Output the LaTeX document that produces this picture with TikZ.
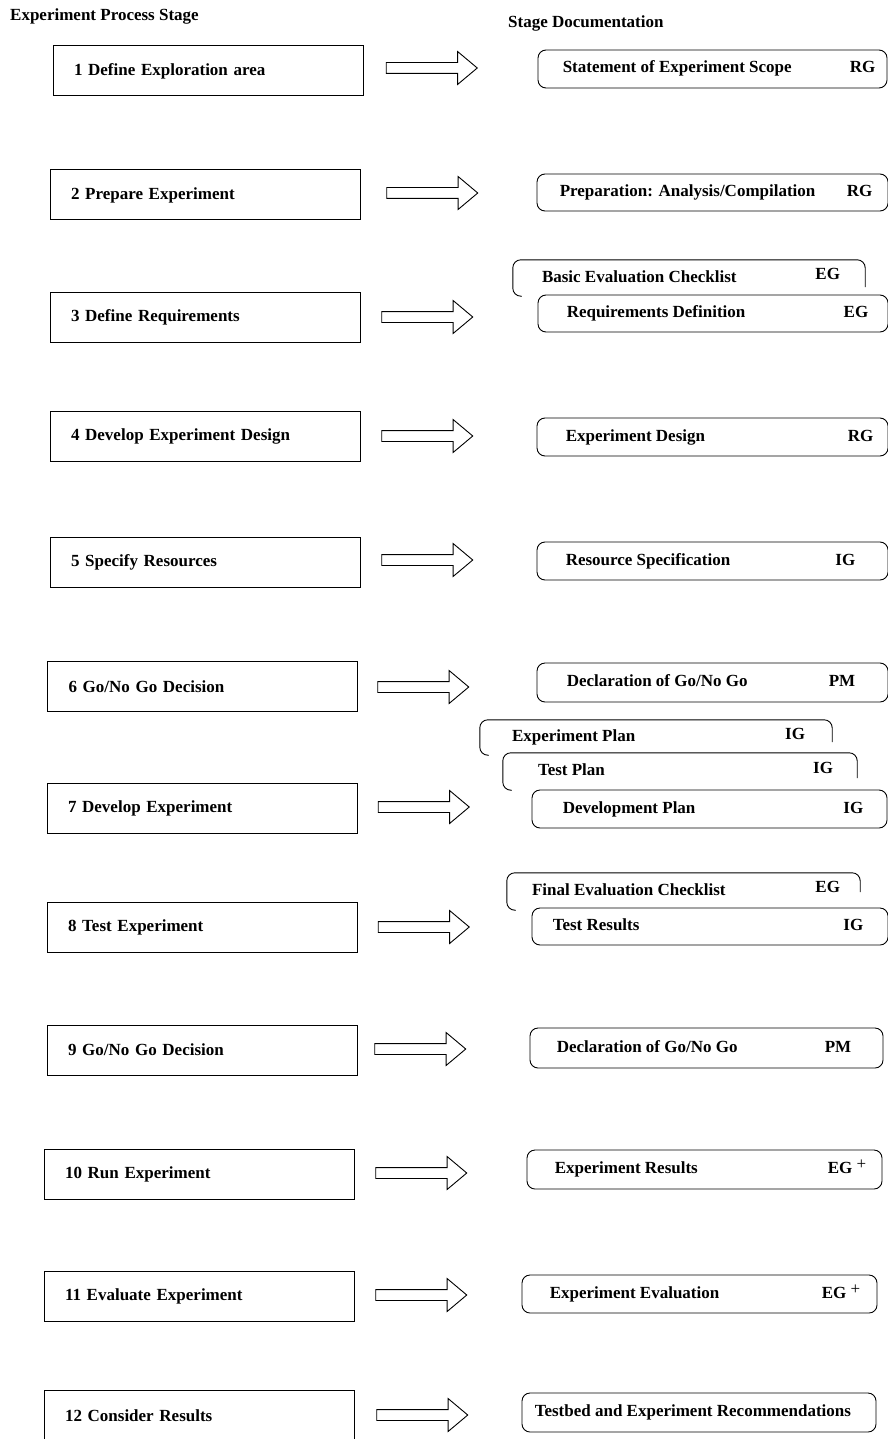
\documentclass[tikz,border=0pt]{standalone}
\usepackage{fontspec}
\setmainfont{Liberation Serif}
\usetikzlibrary{shapes.arrows,positioning,calc}

\tikzset{
  stagebox/.style={draw, line width=1pt, minimum width=310pt, minimum height=50pt,
    text width=268pt, inner xsep=21pt, inner ysep=0pt, align=left},
  docbox/.style={draw, fill=white, line width=0.9pt, rounded corners=8pt,
    minimum width=352pt, minimum height=38pt, inner sep=0pt},
  backbox/.style={minimum width=352pt, minimum height=36pt, inner sep=0pt},
  docline/.style={line width=0.9pt, rounded corners=8pt},
  doctext/.style={inner sep=0pt, text height=12pt, text depth=4pt},
  docarrow/.style={draw, line width=0.9pt, single arrow, minimum height=91pt,
    single arrow head extend=11pt, single arrow tip angle=80,
    single arrow head indent=0pt, inner xsep=0pt, inner ysep=5pt},
}
\newcommand{\egplus}{EG \raisebox{4pt}{\mdseries+}}

\begin{document}
\begin{tikzpicture}[x=1pt, y=-1pt, font=\bfseries\fontsize{17}{20}\selectfont]
\useasboundingbox (0,0) rectangle (888,1439);

% headings
\node[doctext, anchor=west] (h1) at (10,17) {Experiment Process Stage};
\node[doctext, anchor=west] (h2) at (508,24) {Stage Documentation};

% process stages
\node[stagebox] (s1) at (208,71) {1 Define Exploration area};
\node[stagebox] (s2) at (205,195) {2 Prepare Experiment};
\node[stagebox] (s3) at (205,317.5) {3 Define Requirements};
\node[stagebox] (s4) at (205,436) {4 Develop Experiment Design};
\node[stagebox] (s5) at (205,562) {5 Specify Resources};
\node[stagebox] (s6) at (202.5,686.5) {6 Go/No Go Decision};
\node[stagebox] (s7) at (202,808) {7 Develop Experiment};
\node[stagebox] (s8) at (202,927.5) {8 Test Experiment};
\node[stagebox] (s9) at (202,1050) {9 Go/No Go Decision};
\node[stagebox] (s10) at (199,1174.5) {10 Run Experiment};
\node[stagebox] (s11) at (199,1296.5) {11 Evaluate Experiment};
\node[stagebox] (s12) at (199,1415.5) {12 Consider Results};

% arrows
\node[docarrow] (a1) at (428.5,68) {};
\node[docarrow] (a2) at (429,193) {};
\node[docarrow] (a3) at (424,317) {};
\node[docarrow] (a4) at (424,436) {};
\node[docarrow] (a5) at (424,560) {};
\node[docarrow] (a6) at (420,687) {};
\node[docarrow] (a7) at (420.5,807) {};
\node[docarrow] (a8) at (420.5,927) {};
\node[docarrow] (a9) at (417,1049) {};
\node[docarrow] (a10) at (418,1173) {};
\node[docarrow] (a11) at (418,1295) {};
\node[docarrow] (a12) at (419,1415) {};

% documentation
\node[docbox, minimum width=349pt] (d1) at (712.5,69) {};
\node[doctext, right=25pt of d1.west] (d1t) {Statement of Experiment Scope};
\node[doctext, left=12pt of d1.east] (d1c) {RG};

\node[docbox, minimum width=351pt, minimum height=37pt] (d2) at (712.5,192.5) {};
\node[doctext, right=23pt of d2.west] (d2t) {Preparation: Analysis/Compilation};
\node[doctext, left=16pt of d2.east] (d2c) {RG};

\node[backbox] (b3) at (689,278) {};
\draw[docline] ([xshift=9pt]b3.south west) -- (b3.south west) -- (b3.north west)
  -- (b3.north east) -- ([yshift=9pt]b3.south east);
\node[doctext, right=29pt of b3.west] (b3t) {Basic Evaluation Checklist};
\node[doctext, left=25pt of b3.east, yshift=3pt] (b3c) {EG};
\node[docbox, minimum width=350pt, minimum height=37pt] (d3) at (713,313.5) {};
\node[doctext, right=29pt of d3.west] (d3t) {Requirements Definition};
\node[doctext, left=20pt of d3.east] (d3c) {EG};

\node[docbox, minimum width=351pt] (d4) at (712.5,437) {};
\node[doctext, right=29pt of d4.west] (d4t) {Experiment Design};
\node[doctext, left=15pt of d4.east] (d4c) {RG};

\node[docbox, minimum width=351pt] (d5) at (712.5,561) {};
\node[doctext, right=29pt of d5.west] (d5t) {Resource Specification};
\node[doctext, left=33pt of d5.east] (d5c) {IG};

\node[docbox, minimum width=351pt, minimum height=39pt] (d6) at (712.5,682.5) {};
\node[doctext, right=30pt of d6.west] (d6t) {Declaration of Go/No Go};
\node[doctext, left=33pt of d6.east] (d6c) {PM};

\node[backbox, minimum height=35pt] (b7a) at (656,737.5) {};
\draw[docline] ([xshift=9pt]b7a.south west) -- (b7a.south west) -- (b7a.north west)
  -- (b7a.north east) -- ([yshift=13pt]b7a.south east);
\node[doctext, right=32pt of b7a.west] (b7at) {Experiment Plan};
\node[doctext, left=27pt of b7a.east, yshift=2pt] (b7ac) {IG};
\node[backbox, minimum width=354pt, minimum height=37pt] (b7b) at (680,771.5) {};
\draw[docline] ([xshift=9pt]b7b.south west) -- (b7b.south west) -- (b7b.north west)
  -- (b7b.north east) -- ([yshift=12pt]b7b.south east);
\node[doctext, right=35pt of b7b.west] (b7bt) {Test Plan};
\node[doctext, left=24pt of b7b.east, yshift=2pt] (b7bc) {IG};
\node[docbox, minimum width=355pt] (d7) at (709.5,809) {};
\node[doctext, right=31pt of d7.west] (d7t) {Development Plan};
\node[doctext, left=24pt of d7.east] (d7c) {IG};

\node[backbox, minimum width=353pt, minimum height=37pt] (b8) at (683.5,891.5) {};
\draw[docline] ([xshift=9pt]b8.south west) -- (b8.south west) -- (b8.north west)
  -- (b8.north east) -- ([yshift=18pt]b8.south east);
\node[doctext, right=25pt of b8.west] (b8t) {Final Evaluation Checklist};
\node[doctext, left=20pt of b8.east, yshift=3pt] (b8c) {EG};
\node[docbox, minimum width=356pt, minimum height=37pt] (d8) at (710,926.5) {};
\node[doctext, right=21pt of d8.west] (d8t) {Test Results};
\node[doctext, left=25pt of d8.east] (d8c) {IG};

\node[docbox, minimum width=353pt, minimum height=40pt] (d9) at (706.5,1048) {};
\node[doctext, right=27pt of d9.west] (d9t) {Declaration of Go/No Go};
\node[doctext, left=32pt of d9.east] (d9c) {PM};

\node[docbox, minimum width=355pt, minimum height=39pt] (d10) at (704.5,1169.5) {};
\node[doctext, right=28pt of d10.west] (d10t) {Experiment Results};
\node[doctext, left=16pt of d10.east] (d10c) {\egplus};

\node[docbox, minimum width=355pt] (d11) at (699.5,1294) {};
\node[doctext, right=28pt of d11.west] (d11t) {Experiment Evaluation};
\node[doctext, left=17pt of d11.east] (d11c) {\egplus};

\node[docbox, minimum width=354pt, minimum height=39pt] (d12) at (699,1412.5) {};
\node[doctext, right=13pt of d12.west] (d12t) {Testbed and Experiment Recommendations};
\end{tikzpicture}
\end{document}
